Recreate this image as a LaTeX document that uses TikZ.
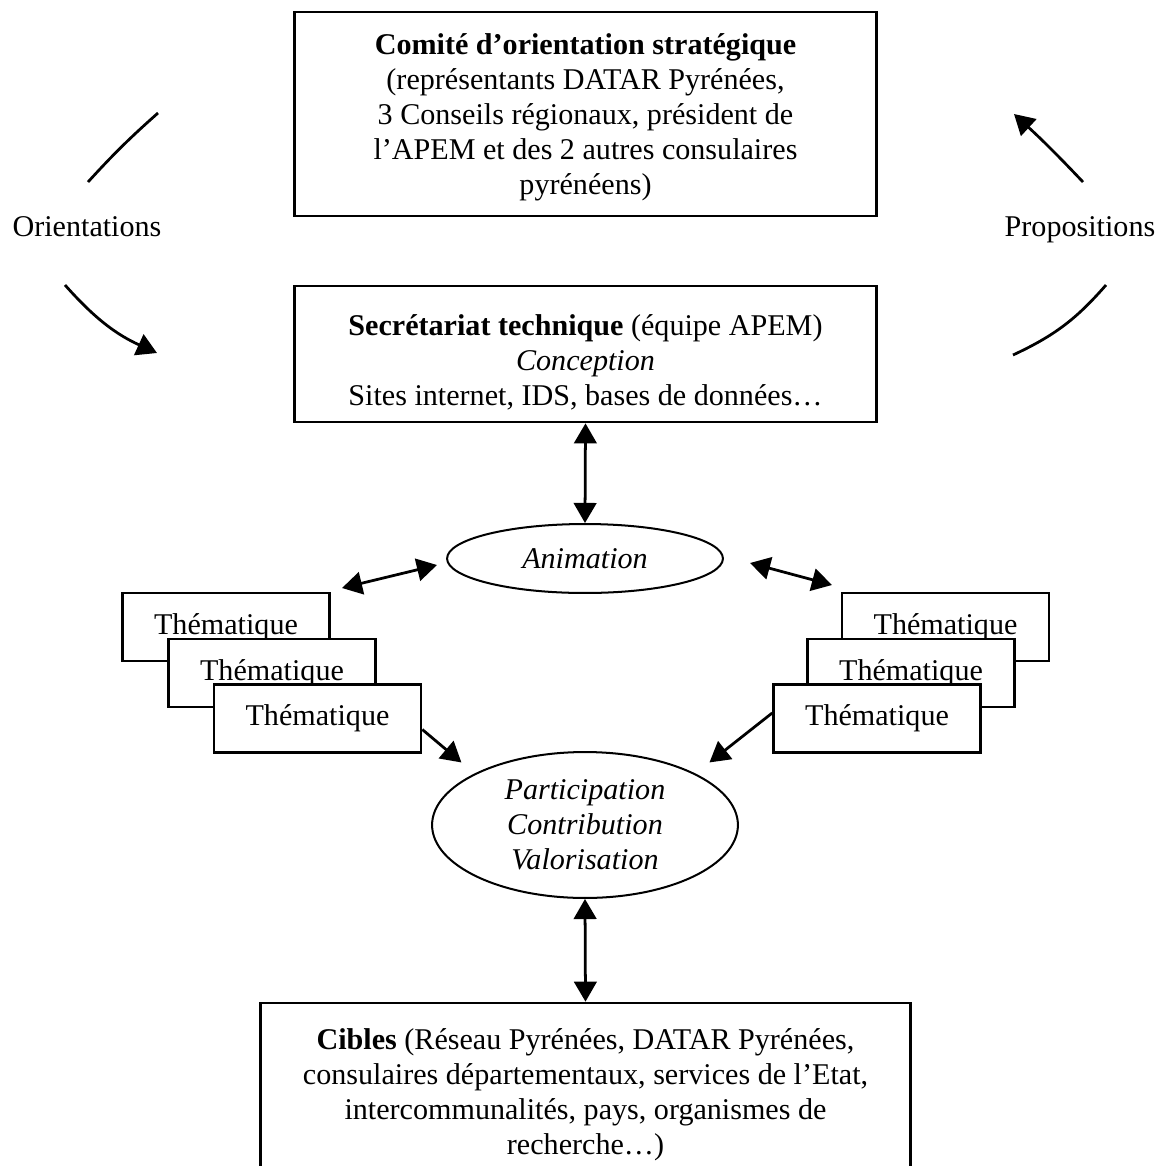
\documentclass[tikz,border=0pt]{standalone}
\usepackage{fontspec}
\setmainfont{Liberation Serif}
\usetikzlibrary{arrows.meta,shapes.geometric}

\begin{document}
\begin{tikzpicture}[x=0.014cm, y=-0.014cm,
    every node/.style={font=\fontsize{12}{13.9}\selectfont},
    mainbox/.style={draw, line width=1.1pt, minimum width=8.16cm},
    boxtext/.style={align=center, inner sep=0pt},
    thembox/.style={draw, line width=1.1pt, fill=white, minimum width=2.898cm, minimum height=0.952cm, inner sep=0pt},
    oval/.style={draw, ellipse, line width=0.8pt, inner sep=0pt, align=center},
    loopline/.style={line width=1.1pt},
    link/.style={line width=1.1pt, -{Triangle[length=8pt, width=9pt]}},
    dlink/.style={line width=1.1pt, {Triangle[length=8pt, width=9pt]}-{Triangle[length=8pt, width=9pt]}}]

    \useasboundingbox (0,0) rectangle (1165,1166);

    % --- Top: strategic committee ---
    \node[mainbox, minimum height=2.856cm] (comite) at (585.5,114) {};
    \node[boxtext] (comitetxt) at (585.5,117.5) {\textbf{Comité d’orientation stratégique}\\(représentants DATAR Pyrénées,\\3 Conseils régionaux, président de\\l’APEM et des 2 autres consulaires\\pyrénéens)};

    % --- Technical secretariat ---
    \node[mainbox, minimum height=1.904cm] (secr) at (585.5,354) {};
    \node[boxtext] (secrtxt) at (585.5,362) {\textbf{Secrétariat technique} (équipe APEM)\\\textit{Conception}\\Sites internet, IDS, bases de données…};

    % Loop labels
    \node[anchor=base] (orient) at (87,236) {Orientations};
    \node[anchor=base] (propos) at (1080,236) {Propositions};

    % Loop arcs (broken by the labels)
    \coordinate (o1) at (158,113);
    \coordinate (o2) at (88,182);
    \coordinate (o3) at (65,285);
    \coordinate (o4) at (157,353);
    \coordinate (p1) at (1106,285);
    \coordinate (p2) at (1013,355);
    \coordinate (p3) at (1083,182);
    \coordinate (p4) at (1014,114);
    \draw[loopline] (o1) to[bend right=3] (o2);
    \draw[link] (o3) to[bend right=12] (o4);
    \draw[loopline] (p1) to[bend left=12] (p2);
    \draw[link] (p3) to[bend right=2] (p4);

    % --- Animation ---
    \node[oval, minimum width=3.864cm, minimum height=0.966cm] (anim) at (585,558.5) {\textit{Animation}};
    \draw[dlink] (secr.south) -- (anim.north);

    \coordinate (al1) at (342,588);
    \coordinate (al2) at (437,565);
    \coordinate (ar1) at (750,563);
    \coordinate (ar2) at (832,585);
    \draw[dlink] (al1) -- (al2);
    \draw[dlink] (ar1) -- (ar2);

    % --- Thematic groups (left / right stacks) ---
    \node[thembox] (lt1) at (226,627) {Thématique};
    \node[thembox] (lt2) at (272,673) {Thématique};
    \node[thembox] (lt3) at (317.5,718.5) {Thématique};

    \node[thembox] (rt1) at (945.5,627) {Thématique};
    \node[thembox] (rt2) at (911,673) {Thématique};
    \node[thembox] (rt3) at (877,718.5) {Thématique};

    % --- Participation ---
    \node[oval, minimum width=4.284cm, minimum height=2.044cm] (part) at (585,825) {\textit{Participation}\\\textit{Contribution}\\\textit{Valorisation}};
    \draw[link, shorten >=0.24cm] (lt3.-6) -- (part.155);
    \draw[link, shorten >=0.25cm] (rt3.177) -- (part.25);

    % --- Targets ---
    \node[mainbox, minimum width=9.114cm, minimum height=2.618cm] (cibles) at (585.5,1096.5) {};
    \node[boxtext] (ciblestxt) at (585.5,1094.5) {\textbf{Cibles} (Réseau Pyrénées, DATAR Pyrénées,\\consulaires départementaux, services de l’Etat,\\intercommunalités, pays, organismes de\\recherche…)};
    \draw[dlink] (part.south) -- (cibles.north);

\end{tikzpicture}
\end{document}
